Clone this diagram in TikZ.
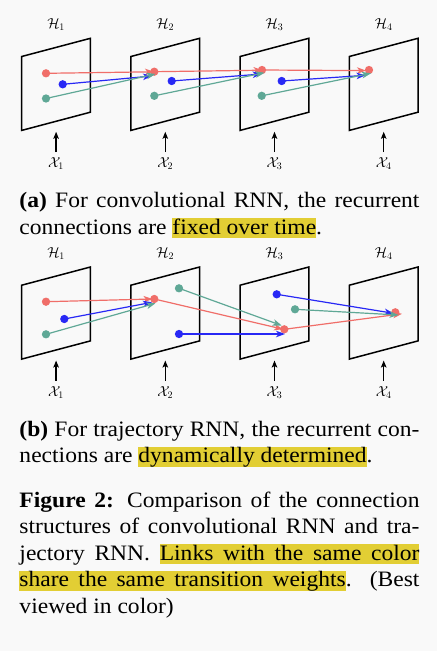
\documentclass[tikz,border=0pt]{standalone}
\usepackage{fontspec}
\setmainfont{Liberation Serif}[FakeStretch=1.07]
\usetikzlibrary{arrows.meta}
\definecolor{bgc}{RGB}{249,249,249}
\definecolor{cred}{RGB}{240,110,105}
\definecolor{cblue}{RGB}{40,40,245}
\definecolor{cgreen}{RGB}{95,168,150}
\definecolor{hlyellow}{RGB}{226,206,52}
\newcommand\hlt[1]{{\fboxsep=0pt\colorbox{hlyellow}{\rule[-4pt]{0pt}{20pt}\smash{#1}}}}
\newcommand\hw[1]{{\fboxsep=0pt\colorbox{hlyellow}{\rule[-4pt]{0pt}{20pt}\smash{#1}}}}
\newcommand\hs{{\color{hlyellow}\leaders\hrule height 16pt depth 4pt\hskip\fontdimen2\font plus\fontdimen3\font minus\fontdimen4\font}}
\newcommand\jline[1]{\makebox[400pt][s]{#1}}
\tikzset{
  plane/.style={draw=black, line width=1.5pt, line join=miter},
  dotnode/.style={circle, inner sep=0pt, minimum size=8.3pt, draw=none},
  link/.style={line width=1.2pt, -{Stealth[length=9pt,width=6.5pt,inset=2.5pt]}},
  inarrow/.style={line width=1.4pt, -{Stealth[length=7pt,width=5.5pt,inset=1.5pt]}},
  lbl/.style={anchor=base, inner sep=0pt, font=\fontsize{14.5}{16}\selectfont},
  txt/.style={anchor=base west, inner sep=0pt, font=\fontsize{22}{26}\selectfont},
}
\begin{document}
\begin{tikzpicture}[x=1pt,y=-1pt]
\fill[bgc] (0,0) rectangle (437,651);
\useasboundingbox (0,0) rectangle (437,651);

% ---------- planes, labels, input arrows ----------
\foreach \i/\xl in {1/21.7,2/130.9,3/240.1,4/349.3}{
  \foreach \p/\dy in {a/0,b/228.7}{
    \draw[plane] (\xl,56.5+\dy) -- (\xl+68.7,38.3+\dy) -- (\xl+68.7,112.2+\dy) -- (\xl,130.4+\dy) -- cycle;
    \node[lbl] (\p H\i) at (\xl+34.4,28.3+\dy) {$\mathcal{H}_{\i}$};
    \node[lbl] (\p X\i) at (\xl+34.4,167.8+\dy) {$\mathcal{X}_{\i}$};
    \coordinate (\p S\i) at (\xl+34.4,152+\dy);
    \coordinate (\p T\i) at (\xl+34.4,131.8+\dy);
    \draw[inarrow] (\p S\i) -- (\p T\i);
  }
}

% ---------- panel (a) dots ----------
\node[dotnode, fill=cred]   (a1r) at (46,73.3) {};
\node[dotnode, fill=cblue]  (a1b) at (62.7,84.3) {};
\node[dotnode, fill=cgreen] (a1g) at (46,98.5) {};
\node[dotnode, fill=cred]   (a2r) at (154.3,71.7) {};
\node[dotnode, fill=cblue]  (a2b) at (171.7,81) {};
\node[dotnode, fill=cgreen] (a2g) at (154.3,95.8) {};
\node[dotnode, fill=cred]   (a3r) at (262,70) {};
\node[dotnode, fill=cblue]  (a3b) at (281.7,81) {};
\node[dotnode, fill=cgreen] (a3g) at (261.7,95.8) {};
\node[dotnode, fill=cred]   (a4r) at (369,70) {};

\coordinate (ta2r) at (154,71.8);
\coordinate (ta2b) at (152,76);
\coordinate (ta2g) at (155.5,74);
\coordinate (ta3r) at (262.5,70.2);
\coordinate (ta3b) at (261.7,74);
\coordinate (ta3g) at (264.5,72.7);
\coordinate (ta4r) at (366,70.6);
\coordinate (ta4b) at (365.5,75.3);
\coordinate (ta4g) at (371,73.3);

\draw[link, cred]   (a1r.center) -- (ta2r);
\draw[link, cblue]  (a1b.center) -- (ta2b);
\draw[link, cgreen] (a1g.center) -- (ta2g);
\draw[link, cred]   (a2r.center) -- (ta3r);
\draw[link, cblue]  (a2b.center) -- (ta3b);
\draw[link, cgreen] (a2g.center) -- (ta3g);
\draw[link, cred]   (a3r.center) -- (ta4r);
\draw[link, cblue]  (a3b.center) -- (ta4b);
\draw[link, cgreen] (a3g.center) -- (ta4g);

% ---------- panel (b) dots ----------
\node[dotnode, fill=cred]   (b1r) at (46,301.7) {};
\node[dotnode, fill=cblue]  (b1b) at (64.3,319) {};
\node[dotnode, fill=cgreen] (b1g) at (46,334.3) {};
\node[dotnode, fill=cred]   (b2r) at (154.3,299) {};
\node[dotnode, fill=cgreen] (b2g) at (179,288.3) {};
\node[dotnode, fill=cblue]  (b2b) at (179,334) {};
\node[dotnode, fill=cblue]  (b3b) at (276.7,294.3) {};
\node[dotnode, fill=cgreen] (b3g) at (295,309.3) {};
\node[dotnode, fill=cred]   (b3r) at (284.3,329.3) {};
\node[dotnode, fill=cred]   (b4r) at (395.3,312.3) {};

\coordinate (tb2r) at (152.5,299);
\coordinate (tb2b) at (152,302.3);
\coordinate (tb2g) at (155.5,303.3);
\coordinate (tb3r) at (283,329.2);
\coordinate (tb3g) at (281.7,325.5);
\coordinate (tb3b) at (285,334);
\coordinate (tb4r) at (402,313.8);
\coordinate (tb4b) at (393.5,313.3);
\coordinate (tb4g) at (398.5,315);

\draw[link, cred]   (b1r.center) -- (tb2r);
\draw[link, cblue]  (b1b.center) -- (tb2b);
\draw[link, cgreen] (b1g.center) -- (tb2g);
\draw[link, cred]   (b2r.center) -- (tb3r);
\draw[link, cgreen] (b2g.center) -- (tb3g);
\draw[link, cblue]  (b2b.center) -- (tb3b);
\draw[link, cred]   (b3r.center) -- (tb4r);
\draw[link, cblue]  (b3b.center) -- (tb4b);
\draw[link, cgreen] (b3g.center) -- (tb4g);

% ---------- captions ----------
\node[txt] (ca1) at (19.3,207.7) {\jline{\textbf{(a)} For convolutional RNN, the recurrent}};
\node[txt] (ca2) at (19.3,234.3) {connections are \hlt{fixed over time}.};
\node[txt] (cb1) at (19.3,436.0) {\jline{\textbf{(b)} For trajectory RNN, the recurrent con-}};
\node[txt] (cb2) at (19.3,462.6) {nections are \hlt{dynamically determined}.};
\node[txt] (f1) at (19.3,507.3) {\jline{\textbf{Figure 2:} Comparison of the connection}};
\node[txt] (f2) at (19.3,533.8) {\jline{structures of convolutional RNN and tra-}};
\node[txt] (f3) at (19.3,560.3) {\jline{jectory RNN. \hw{Links}\hs\hw{with}\hs\hw{the}\hs\hw{same}\hs\hw{color}}};
\node[txt] (f4) at (19.3,586.8) {\jline{\hw{share}\hs\hw{the}\hs\hw{same}\hs\hw{transition}\hs\hw{weights}. (Best}};
\node[txt] (f5) at (19.3,613.3) {viewed in color)};
\end{tikzpicture}
\end{document}
